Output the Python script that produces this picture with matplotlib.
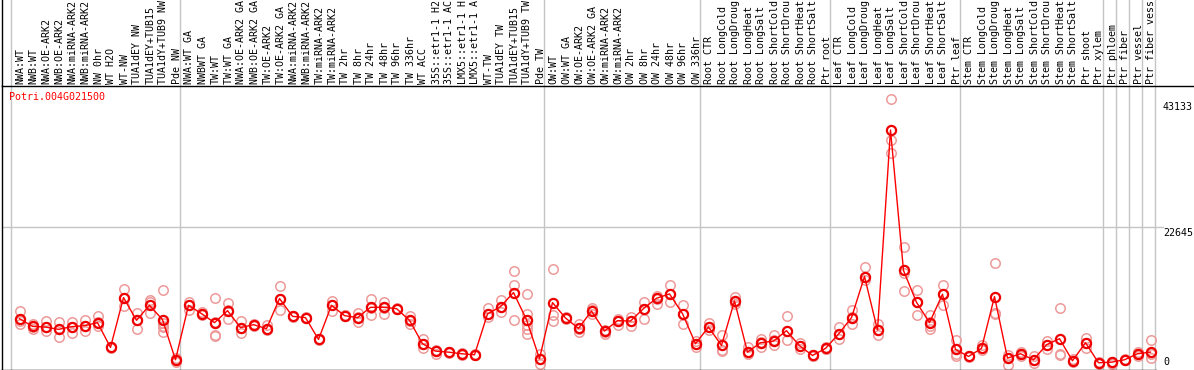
import matplotlib
matplotlib.use("Agg")
import matplotlib.pyplot as plt
from matplotlib.transforms import blended_transform_factory

# ---------------- data ----------------
GENE = "Potri.004G021500"

# header labels as they are visible in the reference (truncated at 14 characters)
NW_LABELS = ["NWA:WT", "NWB:WT", "NWA:OE-ARK2", "NWB:OE-ARK2", "NWA:miRNA-ARK2",
             "NWB:miRNA-ARK2", "NW 0hr", "WT H2O", "WT-NW", "TUA1dEY NW",
             "TUA1dEY+TUB15", "TUA1dY+TUB9 NW", "Pde NW"]
NW_MEANS = [8110, 6880, 6770, 6400, 6830, 6990, 7470, 3520, 11470, 7840, 10240, 7950, 1550]
NW_REPS = [[9280, 7740, 7310], [7200, 6770, 6510], [7730, 6770, 6080], [7520, 6400, 5170],
           [7570, 6770, 5870], [7840, 6880, 6130], [8530, 7570, 6880], [3400, 3550, 3600],
           [12800, 11470, 10080], [9010, 7840, 6510], [11040, 10770, 9070],
           [12640, 7400, 7000, 6700, 6000], [1870, 1550, 1200]]

TW_LABELS = ["NWA:WT GA", "NWBWT GA", "TW:WT", "TW:WT GA", "NWA:OE-ARK2 GA",
             "NWB:OE-ARK2 GA", "TW:OE-ARK2", "TW:OE-ARK2 GA", "NWA:miRNA-ARK2",
             "NWB:miRNA-ARK2", "TW:miRNA-ARK2", "TW:miRNA-ARK2", "TW 2hr", "TW 8hr",
             "TW 24hr", "TW 48hr", "TW 96hr", "TW 336hr", "WT ACC", "35S::etr1-1 H2",
             "35S::etr1-1 AC", "LMX5::etr1-1 H", "LMX5::etr1-1 A", "WT-TW",
             "TUA1dEY TW", "TUA1dEY+TUB15", "TUA1dY+TUB9 TW", "Pde TW"]
TW_MEANS = [10240, 8910, 7470, 9390, 6670, 7150, 6510, 11310, 8480, 8270, 4800, 10240, 8590,
            8270, 9920, 9920, 9710, 7840, 4110, 2930, 2770, 2510, 2350, 8850, 10030, 12270,
            7950, 1710]
TW_REPS = [[10770, 10240, 9550], [9100, 8900, 8750], [11470, 7570, 5550, 5390],
           [10670, 9440, 8110], [7680, 6670, 5810], [7300, 7150, 7000], [7040, 6510, 6240],
           [13280, 11310, 9440], [8550, 8480, 8400], [8350, 8270, 8150], [4900, 4800, 4700],
           [10930, 10240, 9330], [8700, 8640, 8480], [9070, 8370, 7570],
           [11310, 9870, 8640], [10770, 9870, 8910], [9800, 9710, 9600], [8530, 7730, 7200],
           [4910, 4110, 3470], [3150, 2930, 2510], [2850, 2770, 2700], [2560, 2450, 2350],
           [2450, 2350, 2250], [9870, 8910, 8370], [11150, 9970, 9170],
           [15680, 13440, 7840], [12000, 8910, 7950, 7040, 6510, 5710], [2510, 1710, 910]]

OW_LABELS = ["OW:WT", "OW:WT GA", "OW:OE-ARK2", "OW:OE-ARK2 GA", "OW:miRNA-ARK2",
             "OW:miRNA-ARK2", "OW 2hr", "OW 8hr", "OW 24hr", "OW 48hr", "OW 96hr", "OW 336hr"]
OW_MEANS = [10670, 8210, 6560, 9330, 6130, 7790, 7730, 9710, 11360, 12050, 8910, 4110]
OW_REPS = [[16000, 8640, 7730], [8300, 8210, 8100], [7200, 6510, 5970], [9810, 9440, 8910],
           [6350, 5970, 5710], [8110, 7730, 7040], [8370, 7730, 6880], [10770, 9710, 8110],
           [11680, 11310, 10510], [13550, 12110, 10770], [10240, 8910, 7310],
           [4500, 4100, 3570]]

ROOT_LABELS = ["Root CTR", "Root LongCold", "Root LongDroug", "Root LongHeat",
               "Root LongSalt", "Root ShortCold", "Root ShortDrou", "Root ShortHeat",
               "Root ShortSalt", "Ptr root"]
ROOT_MEANS = [6770, 3840, 10930, 2770, 4270, 4530, 6190, 3790, 2240, 3360]
ROOT_REPS = [[7410, 6770, 6240], [5440, 3150, 3000], [11570, 10800, 10500],
             [3570, 2770, 2400], [4910, 4370, 3570], [5550, 4640, 3840],
             [8480, 6130, 4640], [4300, 3790, 3300], [2300, 2190, 2100], [3570, 3300, 3200]]

LEAF_LABELS = ["Leaf CTR", "Leaf LongCold", "Leaf LongDroug", "Leaf LongHeat",
               "Leaf LongSalt", "Leaf ShortCold", "Leaf ShortDrou", "Leaf ShortHeat",
               "Leaf ShortSalt", "Ptr leaf"]
LEAF_MEANS = [5650, 8270, 14830, 6290, 38190, 15790, 10720, 7470, 12000, 3200]
LEAF_REPS = [[6770, 5710, 4910], [9550, 8370, 7200], [16270, 14770, 14240],
             [7310, 6350, 5440], [43133, 36640, 34510], [19470, 15360, 12590],
             [12750, 10770, 8640], [8640, 7570, 6880, 6510], [13440, 12110, 10240],
             [4640, 2400, 2080]]

STEM_LABELS = ["Stem CTR", "Stem LongCold", "Stem LongDroug", "Stem LongHeat",
               "Stem LongSalt", "Stem ShortCold", "Stem ShortDrou", "Stem ShortHeat",
               "Stem ShortSalt", "Ptr shoot", "Ptr xylem"]
STEM_MEANS = [2080, 3360, 11630, 1810, 2510, 1550, 3950, 4910, 1390, 4270, 1070]
STEM_REPS = [[2160, 2080, 1970], [3840, 3410, 3040], [16910, 9070, 8900],
             [2240, 1810, 750], [2720, 2510, 2190], [2080, 1540, 1010],
             [4530, 3950, 3310], [9870, 2500, 2350], [1600, 1390, 1200],
             [5070, 4270, 3470], [1200, 1000, 950]]

XYL_LABELS = ["Ptr phloem", "Ptr fiber", "Ptr vessel", "Ptr fiber vess"]
XYL_MEANS = [1170, 1550, 2510, 2770]
XYL_REPS = [[1240, 1070, 900], [1600, 1550, 1500], [2720, 2510, 2190], [4640, 2400, 1870]]

GROUPS = [(NW_LABELS, NW_MEANS, NW_REPS), (TW_LABELS, TW_MEANS, TW_REPS),
          (OW_LABELS, OW_MEANS, OW_REPS), (ROOT_LABELS, ROOT_MEANS, ROOT_REPS),
          (LEAF_LABELS, LEAF_MEANS, LEAF_REPS), (STEM_LABELS, STEM_MEANS, STEM_REPS),
          ([XYL_LABELS[0]], [XYL_MEANS[0]], [XYL_REPS[0]]),
          ([XYL_LABELS[1]], [XYL_MEANS[1]], [XYL_REPS[1]]),
          ([XYL_LABELS[2]], [XYL_MEANS[2]], [XYL_REPS[2]]),
          ([XYL_LABELS[3]], [XYL_MEANS[3]], [XYL_REPS[3]])]

Y_MAX = 45290
Y_TICKS = [43133, 22645, 0]
GRID_VALUE = 22645

# ---------------- build ----------------
labels, means, reps, starts = [], [], [], []
for lab, mn, rp in GROUPS:
    starts.append(len(labels))
    labels += lab
    means += mn
    reps += rp
starts.append(len(labels))
x = list(range(len(labels)))

W, H = 1194, 370
DPI = 100
FONT = "DejaVu Sans Mono"
FS = 7.2
GRAY = "#c4c4c4"

fig = plt.figure(figsize=(W / DPI, H / DPI), dpi=DPI)
fig.patch.set_facecolor("white")

PX_UNIT = 13.0
X_OFF = 19.5
left_px, right_px = 1.5, 1156.0
top_px, bot_px = 85.5, 369.5

ax = fig.add_axes([left_px / W, (H - bot_px) / H, (right_px - left_px) / W,
                   (bot_px - top_px) / H])
hx = fig.add_axes([left_px / W, (H - top_px) / H, (W - left_px) / W, top_px / H])

ax.set_xlim((left_px - X_OFF) / PX_UNIT, (right_px - X_OFF) / PX_UNIT)
hx.set_xlim((left_px - X_OFF) / PX_UNIT, (W - X_OFF) / PX_UNIT)
ax.set_ylim(0, Y_MAX)
hx.set_ylim(0, 1)

for a in (ax, hx):
    a.set_xticks([])
    a.set_yticks([])
    for s in ("top", "right"):
        a.spines[s].set_visible(False)
    for s in ("left", "bottom"):
        a.spines[s].set_color("black")
        a.spines[s].set_linewidth(1.0)

# separators
for k in starts:
    pos = k - 0.654
    ax.axvline(pos, color=GRAY, lw=1.0, zorder=1, clip_on=False)
    hx.axvline(pos, color=GRAY, lw=1.0, zorder=1)

# horizontal grid line
ax.axhline(GRID_VALUE, xmin=0, xmax=(1163 - left_px) / (right_px - left_px),
           color=GRAY, lw=1.0, zorder=1, clip_on=False)

# replicates
rx, ry = [], []
for i, r in zip(x, reps):
    for v in r:
        rx.append(i)
        ry.append(v)
ax.plot(rx, ry, linestyle="none", marker="o", ms=6.8, mfc="none", mec="#ee9a9a",
        mew=1.1, zorder=2, clip_on=False)

# mean line + markers
ax.plot(x, means, color="#ff0000", lw=1.0, zorder=3, marker="o", ms=6.6, mfc="none",
        mec="#ee0000", mew=1.6, clip_on=False)

# gene name
ax.annotate(GENE, xy=(0, 1), xycoords="axes fraction", xytext=(8, -15),
            textcoords="offset pixels", ha="left", va="baseline", color="#ff0000",
            family=FONT, fontsize=FS)

# y labels
offsets = {43133: -7.5, 22645: -5.5, 0: 7.5}
for v in Y_TICKS:
    ax.annotate(str(v), xy=(1, v), xycoords=ax.get_yaxis_transform(),
                xytext=(7, offsets[v]), textcoords="offset pixels", ha="left",
                va="center", color="black", family=FONT, fontsize=FS, annotation_clip=False)

# header labels
tr = blended_transform_factory(hx.transData, hx.transAxes)
for i, lab in zip(x, labels):
    hx.annotate(lab, xy=(i, 0), xycoords=tr, xytext=(1, 2), textcoords="offset pixels",
                rotation=90, ha="center", va="bottom", family=FONT, fontsize=FS,
                color="black", annotation_clip=False)

fig.savefig("out.png", dpi=DPI, facecolor="white")
